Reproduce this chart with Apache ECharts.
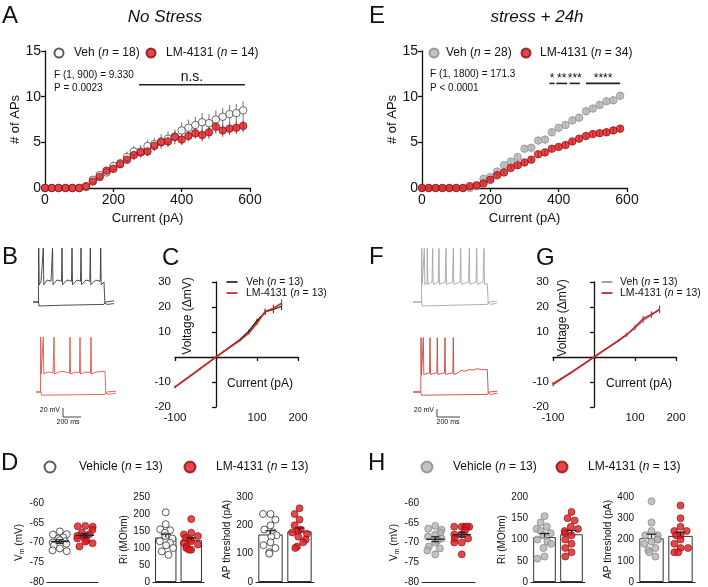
<!DOCTYPE html>
<html>
<head>
<meta charset="utf-8">
<script src="https://cdn.jsdelivr.net/npm/echarts@6/dist/echarts.min.js"></script>
<style>
  html, body { margin: 0; padding: 0; background: #fff; }
  #main { width: 708px; height: 587px; }
</style>
</head>
<body>
<div id="main"></div>
<script>
// ---------- data ----------
// A / E : number of APs vs injected current
var currents = [0,20,40,60,80,100,120,140,160,180,200,220,240,260,280,300,320,340,360,380,400,420,440,460,480,500,520,540,560,580];
var vehA = [0,0,0,0,0,0,0.1,0.9,1.4,1.7,2.4,2.7,3.4,4.0,4.0,4.6,4.8,5.1,5.4,5.6,6.3,6.6,6.9,7.2,7.1,7.5,7.8,8.1,8.2,8.5];
var semVehA = [0,0,0,0,0,0,0.1,0.3,0.4,0.4,0.5,0.5,0.6,0.6,0.7,0.7,0.7,0.8,0.8,0.8,0.9,0.9,0.9,1.0,1.0,1.0,1.0,1.0,1.0,1.0];
var lmA = [0,0,0,0,0,0,0.2,0.7,1.2,1.9,2.1,2.6,3.1,3.6,3.9,4.0,4.6,5.0,5.1,5.6,5.3,5.7,6.0,5.8,6.1,6.7,6.3,6.5,6.6,6.8];
var semLmA = [0,0,0,0,0,0,0.1,0.2,0.3,0.3,0.4,0.4,0.4,0.5,0.5,0.5,0.5,0.5,0.6,0.6,0.6,0.6,0.6,0.7,0.7,0.7,0.7,0.7,0.7,0.7];
var vehE = [0,0,0,0,0,0,0,0,0.2,1.0,1.2,1.8,2.5,2.9,3.4,4.3,4.4,5.2,5.3,6.1,6.6,6.9,7.4,7.7,8.4,8.7,9.1,9.5,9.6,10.1];
var semVehE = [0,0,0,0,0,0,0,0,0.1,0.2,0.2,0.3,0.3,0.3,0.3,0.4,0.4,0.4,0.4,0.4,0.4,0.4,0.4,0.4,0.4,0.4,0.4,0.4,0.4,0.4];
var lmE = [0,0,0,0,0,0,0,0.2,0.3,0.5,0.9,1.4,1.7,2.2,2.5,2.8,3.1,3.7,3.9,4.3,4.5,4.7,5.1,5.4,5.7,5.9,6.0,6.1,6.3,6.5];
var semLmE = [0,0,0,0,0,0,0,0.1,0.1,0.2,0.2,0.2,0.2,0.2,0.3,0.3,0.3,0.3,0.3,0.3,0.3,0.3,0.3,0.3,0.3,0.3,0.3,0.4,0.4,0.4];

// significance bars (pA) and labels
var sigFromA = [275], sigToA = [585], sigLabelA = ['n.s.'];
var sigFromE = [373, 393, 432, 480], sigToE = [388, 425, 462, 580], sigLabelE = ['*', '**', '***', '****'];

// C / G : I-V curves
var ivCurrents = [-100,-80,-60,-40,-20,0,20,40,60,80,100,120,140,160];
var vehC = [-12,-9.7,-7.3,-4.9,-2.4,0,2.4,4.8,7.2,10.3,14.5,18,19,20.3];
var semVehC = [0.3,0.3,0.2,0.2,0.2,0,0.2,0.3,0.4,0.6,0.8,1.2,1.5,1.5];
var lmC = [-12,-9.6,-7.2,-4.8,-2.4,0,2.3,4.6,6.8,9.5,13.5,18.2,19.5,21.5];
var semLmC = [0.6,0.4,0.3,0.3,0.2,0,0.2,0.3,0.4,0.5,0.8,1.2,1.4,1.6];
var vehG = [-10.5,-8.5,-6.5,-4.4,-2.2,0,2.2,4.3,6.5,8.8,11.5,14.5,16.8,19.2];
var semVehG = [0.6,0.4,0.3,0.2,0.2,0,0.2,0.3,0.4,0.6,0.8,1.0,1.2,1.4];
var lmG = [-11,-8.8,-6.7,-4.5,-2.3,0,2.2,4.4,6.6,9.0,12.0,15.3,17.0,19.0];
var semLmG = [0.8,0.5,0.4,0.3,0.2,0,0.2,0.4,0.5,0.8,1.0,1.2,1.3,1.5];

// B / F : example voltage traces [ms, mV]
var traceVehNS = [[0,-70],[55,-70],[57,65],[62,-27],[80,-20],[100,-15],[103,65],[108,-27],[140,-15],[180,-18],[195,65],[200,-27],[240,-15],[285,-18],[290,65],[295,-27],[340,-15],[385,-18],[390,65],[395,-27],[440,-15],[475,-18],[480,65],[485,-27],[530,-15],[568,-18],[573,65],[578,-27],[625,-15],[672,-18],[677,65],[682,-27],[700,-22],[710,-20],[718,-72],[740,-76],[810,-74]];
var traceVehNSLow = [[0,-70],[55,-70],[60,-80],[300,-78],[710,-76],[725,-70],[745,-65],[810,-67]];
var traceLmNS = [[0,-70],[45,-70],[47,67],[52,-25],[70,-22],[73,67],[78,-25],[120,-20],[170,-22],[180,67],[185,-25],[250,-18],[335,-22],[340,67],[345,-25],[400,-20],[435,-22],[440,67],[445,-25],[500,-20],[545,-22],[550,67],[555,-25],[600,-20],[690,-18],[698,-72],[720,-76],[800,-73]];
var traceLmNSLow = [[0,-70],[50,-70],[55,-78],[690,-76],[705,-70],[725,-65],[800,-68]];
var traceVehS = [[0,-70],[85,-70],[87,64],[92,-26],[110,-22],[113,64],[118,-26],[140,-22],[143,64],[148,-26],[190,-20],[197,64],[202,-26],[252,-20],[260,64],[265,-26],[322,-20],[330,64],[335,-26],[395,-20],[403,64],[408,-26],[470,-20],[477,64],[482,-26],[555,-20],[563,64],[568,-26],[630,-20],[637,64],[642,-26],[700,-20],[710,64],[715,-26],[743,-24],[752,-72],[775,-76],[837,-73]];
var traceVehSLow = [[0,-70],[85,-70],[92,-80],[400,-78],[743,-76],[758,-70],[778,-65],[837,-68]];
var traceLmS = [[0,-70],[78,-70],[80,66],[85,-26],[100,-22],[103,66],[108,-26],[165,-22],[170,66],[175,-26],[238,-22],[243,66],[248,-26],[315,-22],[320,66],[325,-26],[398,-22],[403,66],[408,-26],[450,-22],[480,-16],[520,-18],[560,-14],[600,-15],[640,-12],[700,-14],[743,-14],[752,-72],[775,-76],[843,-73]];
var traceLmSLow = [[0,-70],[78,-70],[85,-78],[743,-76],[758,-70],[778,-65],[843,-68]];

// D / H : passive properties, individual cells
var groups = ['Vehicle', 'LM-4131'];
var vmVehD = [-67.2,-67.9,-68.0,-68.7,-69.0,-69.4,-69.7,-70.0,-70.3,-70.8,-71.5,-72.0,-72.2];
var vmLmD = [-65.8,-65.9,-66.0,-66.8,-67.5,-67.9,-68.3,-68.6,-69.0,-69.4,-69.8,-70.2,-71.0];
var riVehD = [205,170,155,152,145,135,128,120,115,108,100,90,80];
var riLmD = [185,145,140,135,130,125,120,115,110,105,100,95,95];
var apVehD = [240,240,220,200,185,175,165,160,140,130,120,105,100];
var apLmD = [260,240,220,200,185,180,175,170,160,150,140,125,120];
var vmVehH = [-65.8,-66.5,-66.8,-67.5,-68.0,-68.5,-69.0,-69.5,-70.0,-71.0,-71.5,-72.0,-73.0];
var vmLmH = [-66,-66,-66,-66,-66,-67,-68,-68,-69,-69,-70,-70,-73];
var riVehH = [155,140,130,125,120,115,110,100,95,90,80,60,55];
var riLmH = [165,150,145,130,125,120,115,110,100,90,80,70,60];
var apVehH = [380,280,240,220,220,200,200,190,180,160,150,140,120];
var apLmH = [360,300,260,240,240,220,220,200,180,160,160,140,140];

// ---------- styling ----------
var FONT = '"Liberation Sans", Arial, Helvetica, sans-serif';
var INK = '#111';
var RED = '#e2161d', RED_EDGE = '#7d0f0f';
var GRAY = '#b3b3b3', GRAY_EDGE = '#8a8a8a';

var grids = [], xAxes = [], yAxes = [], series = [], legends = [], graphics = [];

function mean(a) { var s = 0; a.forEach(function (v) { s += v; }); return s / a.length; }
function sem(a) {
  var m = mean(a), s = 0;
  a.forEach(function (v) { s += (v - m) * (v - m); });
  return Math.sqrt(s / (a.length - 1)) / Math.sqrt(a.length);
}
function pairs(xs, ys) { return xs.map(function (x, i) { return [x, ys[i]]; }); }
function triples(xs, ys, es) { return xs.map(function (x, i) { return [x, ys[i], es[i]]; }); }

function txt(size, extra) {
  return Object.assign({ fontSize: size, fontFamily: FONT, color: INK }, extra || {});
}
function line(color, w) { return { lineStyle: { color: color, width: w } }; }

function addGrid(left, top, width, height) {
  grids.push({ left: left, top: top, width: width, height: height });
  return grids.length - 1;
}

// A / E axes
function apPanel(left) {
  var g = addGrid(left, 51, 205, 137);
  xAxes.push({ gridIndex: g, type: 'value', min: 0, max: 600, interval: 200,
    name: 'Current (pA)', nameLocation: 'middle', nameGap: 24, nameTextStyle: txt(13),
    axisLine: Object.assign({ onZero: false }, line(INK, 1.3)), axisTick: Object.assign({ length: 4 }, line(INK, 1.3)),
    axisLabel: txt(14, { margin: 5 }), splitLine: { show: false } });
  yAxes.push({ gridIndex: g, type: 'value', min: 0, max: 15, interval: 5,
    name: '# of APs', nameLocation: 'middle', nameGap: 20, nameTextStyle: txt(13),
    axisLine: Object.assign({ onZero: false }, line(INK, 1.3)), axisTick: Object.assign({ length: 4 }, line(INK, 1.3)),
    axisLabel: txt(14, { margin: 4 }), splitLine: { show: false } });
  return g;
}

function errorSeries(g, data, color, cap, width) {
  return { type: 'custom', xAxisIndex: g, yAxisIndex: g, data: data, encode: { x: 0, y: 1 }, silent: true, z: 2,
    renderItem: function (params, api) {
      var x = api.value(0), y = api.value(1), e = api.value(2);
      var lo = api.coord([x, y - e]), hi = api.coord([x, y + e]);
      var kids = [{ type: 'line', shape: { x1: lo[0], y1: lo[1], x2: hi[0], y2: hi[1] }, style: { stroke: color, lineWidth: width || 1.2 } }];
      if (cap) {
        kids.push({ type: 'line', shape: { x1: hi[0] - cap, y1: hi[1], x2: hi[0] + cap, y2: hi[1] }, style: { stroke: color, lineWidth: width || 1.2 } });
        kids.push({ type: 'line', shape: { x1: lo[0] - cap, y1: lo[1], x2: lo[0] + cap, y2: lo[1] }, style: { stroke: color, lineWidth: width || 1.2 } });
      }
      return { type: 'group', children: kids };
    } };
}

function sigSeries(g, from, to, level, labels, fs, lift) {
  return { type: 'custom', xAxisIndex: g, yAxisIndex: g, data: from.map(function (f, i) { return [f, to[i], level]; }),
    encode: { x: [0, 1], y: 2 }, silent: true, z: 5,
    renderItem: function (params, api) {
      var a = api.coord([api.value(0), api.value(2)]), b = api.coord([api.value(1), api.value(2)]);
      return { type: 'group', children: [
        { type: 'line', shape: { x1: a[0], y1: a[1], x2: b[0], y2: b[1] }, style: { stroke: '#222', lineWidth: 1.6 } },
        { type: 'text', x: (a[0] + b[0]) / 2, y: a[1] - lift,
          style: { text: labels[params.dataIndex], fontSize: fs, fontFamily: FONT, fill: INK, align: 'center', verticalAlign: 'bottom' } }
      ] };
    } };
}

function dots(g, name, ys, fill, edge) {
  return { type: 'scatter', name: name, xAxisIndex: g, yAxisIndex: g, data: pairs(currents, ys),
    symbol: 'circle', symbolSize: 7.5, z: 4, itemStyle: { color: fill, borderColor: edge, borderWidth: 0.9 } };
}

// one legend per entry: icon centred at (cx, cy), text starting at textX
function legendItem(name, cx, cy, iw, ih, textX, fs, label, icon) {
  var left = cx - iw / 2;
  var h = Math.max(ih, fs + 2);
  var item = { data: [name], left: left, top: cy - h / 2, itemWidth: iw, itemHeight: ih, padding: 0, itemGap: 0,
    selectedMode: false, formatter: function () { return label; },
    textStyle: txt(fs, { lineHeight: fs + 2, padding: [0, 0, 0, Math.max(0, textX - (left + iw + 5))],
      rich: { i: txt(fs, { fontStyle: 'italic', lineHeight: fs + 2 }) } }) };
  if (icon) item.icon = icon;
  legends.push(item);
}

// ---------- A ----------
var gA = apPanel(45);
series.push(errorSeries(gA, triples(currents, vehA, semVehA), '#8c8c8c'));
series.push(errorSeries(gA, triples(currents, lmA, semLmA), '#7a6a6a'));
series.push(dots(gA, 'vehA', vehA, '#fff', '#333'));
series.push(dots(gA, 'lmA', lmA, RED, RED_EDGE));
series.push(sigSeries(gA, sigFromA, sigToA, 11.3, sigLabelA, 14, 1));
legendItem('vehA', 58, 53, 9, 9, 73, 12, 'Veh ({i|n} = 18)');
legendItem('lmA', 150, 53, 9, 9, 165, 12, 'LM-4131 ({i|n} = 14)');

// ---------- E ----------
var gE = apPanel(422);
series.push(errorSeries(gE, triples(currents, vehE, semVehE), '#9a9a9a'));
series.push(errorSeries(gE, triples(currents, lmE, semLmE), '#a01010'));
series.push(dots(gE, 'vehE', vehE, GRAY, GRAY_EDGE));
series.push(dots(gE, 'lmE', lmE, RED, RED_EDGE));
series.push(sigSeries(gE, sigFromE, sigToE, 11.45, sigLabelE, 12, -1));
legendItem('vehE', 433, 53, 9, 9, 445, 12, 'Veh ({i|n} = 28)');
legendItem('lmE', 525, 53, 9, 9, 539, 12, 'LM-4131 ({i|n} = 34)');

// ---------- B / F traces ----------
function tracePanel(left, top, xmax, traces, color) {
  var g = addGrid(left, top, xmax / 10, 64);
  xAxes.push({ gridIndex: g, type: 'value', min: 0, max: xmax, show: false });
  yAxes.push({ gridIndex: g, type: 'value', min: -85, max: 75, show: false });
  traces.forEach(function (t) {
    series.push({ type: 'line', xAxisIndex: g, yAxisIndex: g, data: t, symbol: 'none', showSymbol: false, silent: true,
      lineStyle: { color: color, width: 0.9 } });
  });
}
tracePanel(33, 244, 810, [traceVehNS, traceVehNSLow], '#3a3a3a');
tracePanel(36, 334, 800, [traceLmNS, traceLmNSLow], '#de5648');
tracePanel(413, 244, 840, [traceVehS, traceVehSLow], '#a6a6a6');
tracePanel(413, 334, 850, [traceLmS, traceLmSLow], '#cc4538');

// ---------- C / G I-V ----------
function ivPanel(left, vehY, vehE_, lmY, lmE_, vehName, lmName, vehColor, lmColor) {
  var g = addGrid(left, 282, 123, 125);
  var hideZero = function (v) { return v === 0 ? '' : v; };
  xAxes.push({ gridIndex: g, type: 'value', min: -100, max: 200, interval: 100,
    axisLine: Object.assign({ onZero: true }, line(INK, 1.3)), axisTick: Object.assign({ length: 4 }, line(INK, 1.3)),
    axisLabel: txt(11.5, { margin: 5, formatter: hideZero }), splitLine: { show: false } });
  yAxes.push({ gridIndex: g, type: 'value', min: -20, max: 30, interval: 10,
    axisLine: Object.assign({ onZero: true }, line(INK, 1.3)), axisTick: Object.assign({ length: 4 }, line(INK, 1.3)),
    axisLabel: txt(11.5, { margin: 4, formatter: hideZero }), splitLine: { show: false } });
  series.push({ type: 'line', name: vehName, xAxisIndex: g, yAxisIndex: g, data: pairs(ivCurrents, vehY),
    symbol: 'none', lineStyle: { color: vehColor, width: 1.3 }, itemStyle: { color: vehColor }, z: 3 });
  series.push(errorSeries(g, triples(ivCurrents, vehY, vehE_), vehColor, 0, 1));
  series.push({ type: 'line', name: lmName, xAxisIndex: g, yAxisIndex: g, data: pairs(ivCurrents, lmY),
    symbol: 'none', lineStyle: { color: lmColor, width: 1.6 }, itemStyle: { color: lmColor }, z: 4 });
  series.push(errorSeries(g, triples(ivCurrents, lmY, lmE_), lmColor, 0, 1));
  return g;
}
ivPanel(175, vehC, semVehC, lmC, semLmC, 'vehC', 'lmC', '#1a1a1a', '#cc2f2a');
legendItem('vehC', 232, 282, 11, 1.6, 246, 10.5, 'Veh ({i|n} = 13)', 'rect');
legendItem('lmC', 232, 293, 11, 1.8, 246, 10.5, 'LM-4131 ({i|n} = 13)', 'rect');
ivPanel(553, vehG, semVehG, lmG, semLmG, 'vehG', 'lmG', '#8c8c8c', '#c2272a');
legendItem('vehG', 607, 282, 11, 1.6, 620, 10.5, 'Veh ({i|n} = 13)', 'rect');
legendItem('lmG', 607, 293, 11, 1.8, 620, 10.5, 'LM-4131 ({i|n} = 13)', 'rect');

// ---------- D / H cell panels ----------
function cellPanel(left, top, width, height, ymin, ymax, step, yName, nameGap, veh, lm, vehName, lmName, vehFill, vehEdge, withBars) {
  var g = addGrid(left, top, width, height);
  xAxes.push({ gridIndex: g, type: 'category', data: groups, jitter: 16, jitterOverlap: false, jitterMargin: 0.5,
    axisLine: line('#222', 1), axisTick: { show: false }, axisLabel: { show: false }, splitLine: { show: false } });
  yAxes.push({ gridIndex: g, type: 'value', min: ymin, max: ymax, interval: step,
    name: yName, nameLocation: 'middle', nameGap: nameGap,
    nameTextStyle: txt(10, { rich: { s: txt(7, { verticalAlign: 'bottom', lineHeight: 9 }), a: txt(10, { lineHeight: 13 }) } }),
    axisLine: line('#222', 1), axisTick: Object.assign({ length: 3 }, line('#222', 1)),
    axisLabel: txt(10, { margin: 3 }), splitLine: { show: false } });
  if (withBars) {
    series.push({ type: 'bar', xAxisIndex: g, yAxisIndex: g, data: [mean(veh), mean(lm)], barWidth: '84%', silent: true, z: 1,
      itemStyle: { color: '#fff', borderColor: '#333', borderWidth: 1 } });
  }
  series.push({ type: 'scatter', name: vehName, xAxisIndex: g, yAxisIndex: g, data: veh.map(function (v) { return [0, v]; }),
    symbolSize: 7, z: 3, itemStyle: { color: vehFill, borderColor: vehEdge, borderWidth: 1 } });
  series.push({ type: 'scatter', name: lmName, xAxisIndex: g, yAxisIndex: g, data: lm.map(function (v) { return [1, v]; }),
    symbolSize: 7, z: 3, itemStyle: { color: RED, borderColor: RED_EDGE, borderWidth: 0.8 } });
  series.push({ type: 'custom', xAxisIndex: g, yAxisIndex: g, silent: true, z: 6,
    data: [[0, mean(veh), sem(veh)], [1, mean(lm), sem(lm)]], encode: { x: 0, y: 1 },
    renderItem: function (params, api) {
      var c = api.coord([api.value(0), api.value(1)]);
      var hi = api.coord([api.value(0), api.value(1) + api.value(2)]);
      var lo = api.coord([api.value(0), api.value(1) - api.value(2)]);
      var st = { stroke: '#222', lineWidth: 1.2 };
      var kids;
      if (withBars) {
        kids = [
          { type: 'line', shape: { x1: c[0], y1: c[1], x2: hi[0], y2: hi[1] }, style: st },
          { type: 'line', shape: { x1: hi[0] - 5, y1: hi[1], x2: hi[0] + 5, y2: hi[1] }, style: st }
        ];
      } else {
        kids = [
          { type: 'line', shape: { x1: c[0] - 9, y1: c[1], x2: c[0] + 9, y2: c[1] }, style: { stroke: '#222', lineWidth: 1.4 } },
          { type: 'line', shape: { x1: lo[0], y1: lo[1], x2: hi[0], y2: hi[1] }, style: st },
          { type: 'line', shape: { x1: hi[0] - 4, y1: hi[1], x2: hi[0] + 4, y2: hi[1] }, style: st },
          { type: 'line', shape: { x1: lo[0] - 4, y1: lo[1], x2: lo[0] + 4, y2: lo[1] }, style: st }
        ];
      }
      return { type: 'group', children: kids };
    } });
}
var vmName = '{a|V}{s|m}{a| (mV)}';
cellPanel(47, 503, 51, 80, -80, -60, 5, vmName, 20, vmVehD, vmLmD, 'vehD', 'lmD', '#fff', '#333', false);
cellPanel(153, 497, 51, 86, 0, 250, 50, 'Ri (MOhm)', 21, riVehD, riLmD, 'vehD', 'lmD', '#fff', '#333', true);
cellPanel(256, 497, 58, 86, 0, 300, 100, 'AP threshold (pA)', 18, apVehD, apLmD, 'vehD', 'lmD', '#fff', '#333', true);
cellPanel(422, 503, 53, 80, -80, -60, 5, vmName, 20, vmVehH, vmLmH, 'vehH', 'lmH', GRAY, GRAY_EDGE, false);
cellPanel(531, 497, 54, 86, 0, 200, 50, 'Ri (MOhm)', 21, riVehH, riLmH, 'vehH', 'lmH', GRAY, GRAY_EDGE, true);
cellPanel(637, 497, 58, 86, 0, 400, 100, 'AP threshold (pA)', 18, apVehH, apLmH, 'vehH', 'lmH', GRAY, GRAY_EDGE, true);
legendItem('vehD', 49, 467, 11, 11, 78, 12, 'Vehicle ({i|n} = 13)');
legendItem('lmD', 189, 467, 11, 11, 215, 12, 'LM-4131 ({i|n} = 13)');
legendItem('vehH', 426, 467, 11, 11, 452, 12, 'Vehicle ({i|n} = 13)');
legendItem('lmH', 561, 467, 11, 11, 587, 12, 'LM-4131 ({i|n} = 13)');

// ---------- free text: panel letters, titles, stats, scale bars ----------
function label(text, x, y, size, opts) {
  graphics.push({ type: 'text', x: x, y: y, silent: true, rotation: (opts && opts.rotation) || 0,
    style: { text: text, fontSize: size, fontFamily: FONT, fill: INK, fontStyle: (opts && opts.italic) ? 'italic' : 'normal',
      align: (opts && opts.align) || 'left', verticalAlign: 'middle' } });
}
function seg(x1, y1, x2, y2) {
  graphics.push({ type: 'line', silent: true, shape: { x1: x1, y1: y1, x2: x2, y2: y2 }, style: { stroke: '#444', lineWidth: 1 } });
}
label('A', 2, 16, 24); label('E', 369, 16, 24);
label('B', 2, 257, 24); label('C', 162, 258, 24);
label('F', 369, 257, 24); label('G', 536, 258, 24);
label('D', 1, 463, 24); label('H', 368, 463, 24);
label('No Stress', 165, 17, 17, { italic: true, align: 'center' });
label('stress + 24h', 537, 17, 17, { italic: true, align: 'center' });
label('F (1, 900) = 9.330', 54, 75, 10); label('P = 0.0023', 54, 88, 10);
label('F (1, 1800) = 171.3', 430, 74, 10); label('P < 0.0001', 430, 88, 10);
label('Voltage (\u0394mV)', 188, 316, 12, { align: 'center', rotation: Math.PI / 2 });
label('Current (pA)', 260, 384, 12, { align: 'center' });
label('Voltage (\u0394mV)', 563, 318, 12, { align: 'center', rotation: Math.PI / 2 });
label('Current (pA)', 639, 384, 12, { align: 'center' });
seg(63, 408, 63, 417); seg(63, 417, 81, 417);
label('20 mV', 60, 410, 7, { align: 'right' }); label('200 ms', 68, 422, 7, { align: 'center' });
seg(437, 409, 437, 417); seg(437, 417, 460, 417);
label('20 mV', 434, 410, 7, { align: 'right' }); label('200 ms', 448, 422, 7, { align: 'center' });

var chart = echarts.init(document.getElementById('main'));
chart.setOption({
  animation: false,
  backgroundColor: '#fff',
  textStyle: { fontFamily: FONT },
  grid: grids,
  xAxis: xAxes,
  yAxis: yAxes,
  legend: legends,
  series: series,
  graphic: graphics
});
</script>
</body>
</html>
